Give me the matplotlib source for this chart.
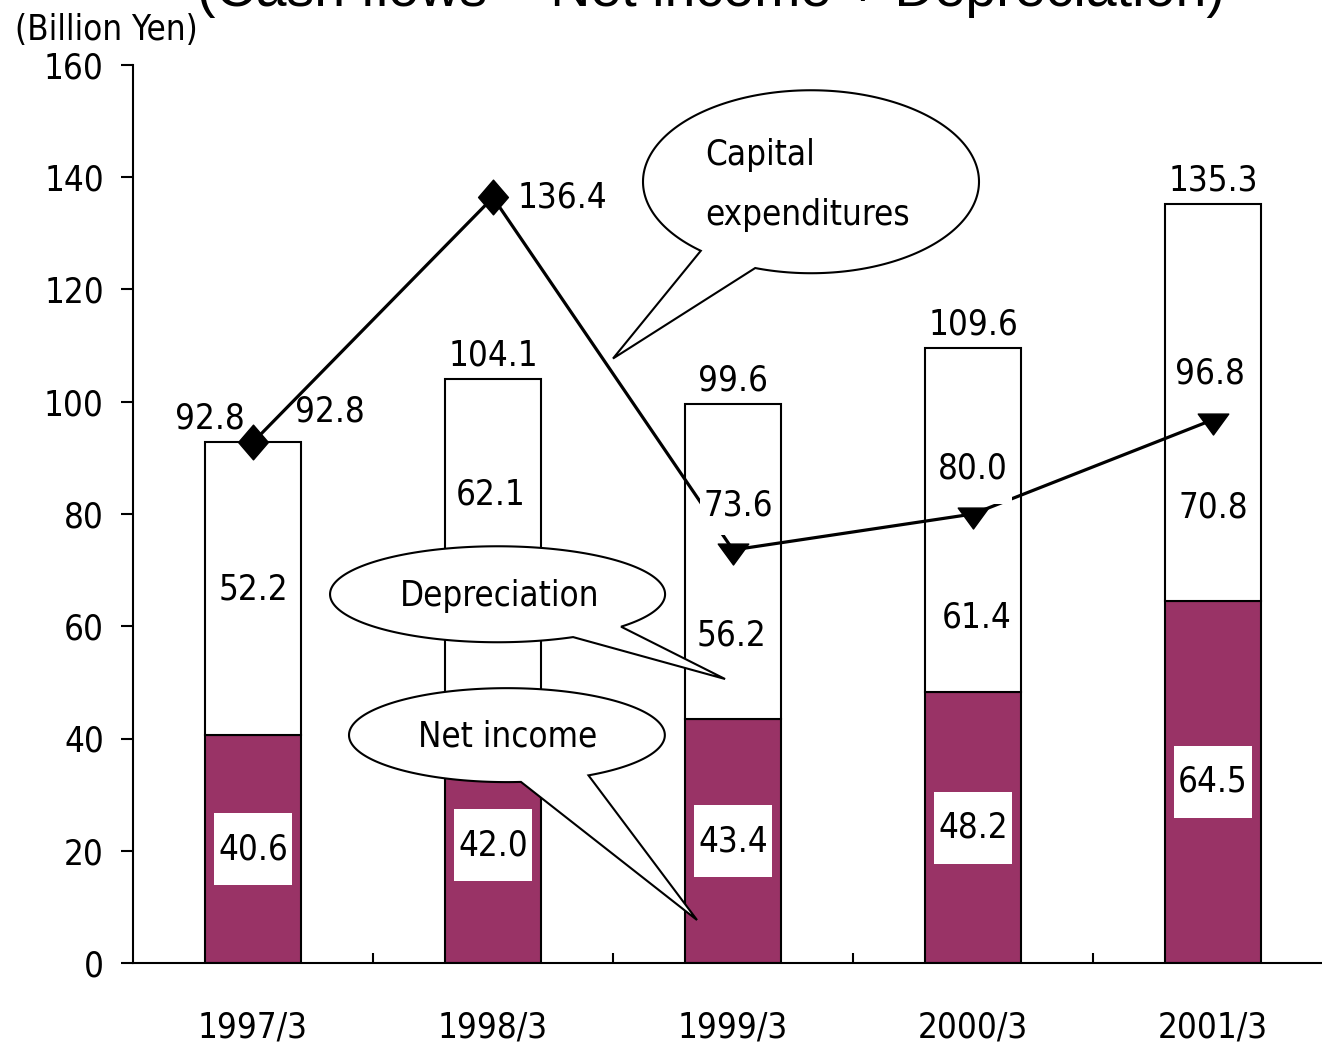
import numpy as np
import matplotlib
matplotlib.use("Agg")
import matplotlib.pyplot as plt
from matplotlib import font_manager as fm
from matplotlib.patches import Polygon, Rectangle
from matplotlib.path import Path

# data
years = ["1997/3", "1998/3", "1999/3", "2000/3", "2001/3"]
net_income = [40.6, 42.0, 43.4, 48.2, 64.5]
depreciation = [52.2, 62.1, 56.2, 61.4, 70.8]
cash_flow = [92.8, 104.1, 99.6, 109.6, 135.3]
capex = [92.8, 136.4, 73.6, 80.0, 96.8]

# label placement (hand tuned like the original)
dep_label_y = [66.5, 83.4, 58.3, 61.6, 81.2]
dep_label_dx = [0.0, -0.01, -0.005, 0.015, 0.0]

PURPLE = "#993366"

# the original uses a narrow sans; look for one, else shrink a normal one
narrow = None
for f in fm.fontManager.ttflist:
    low = (f.name + " " + f.fname).lower()
    if ("narrow" in low or "condensed" in low or f.stretch in ("condensed", "semi-condensed")) \
            and f.weight in (400, "normal", "regular") and f.style == "normal" \
            and "mono" not in low and "serif" not in f.name.lower():
        narrow = f
        break
if narrow is not None:
    FP = fm.FontProperties(fname=narrow.fname)
    FS = 25
else:
    FP = fm.FontProperties(family=["Liberation Sans", "DejaVu Sans"])
    FS = 23


def txt(*args, **kw):
    return ax.text(*args, fontproperties=FP, fontsize=FS, **kw)


fig = plt.figure(figsize=(13.22, 10.45), dpi=100)
ax = fig.add_axes([133 / 1322, 82 / 1045, 1189 / 1322, 898 / 1045])

x = np.arange(len(years))
ax.bar(x, net_income, width=0.4, color=PURPLE, edgecolor="black", linewidth=1.5, zorder=2)
ax.bar(x, depreciation, width=0.4, bottom=net_income, color="white",
       edgecolor="black", linewidth=1.5, zorder=2)

# capital expenditures line
ax.plot(x, capex, color="black", lw=2.3, zorder=3)
diamond = Path([(0, 1), (0.86, 0), (0, -1), (-0.86, 0), (0, 1)], closed=True)
tri = Path([(-1, 0.42), (1, 0.42), (0, -0.95), (-1, 0.42)], closed=True)
ax.plot(x[:2], capex[:2], ls="none", marker=diamond, ms=25, color="black", zorder=5)
ax.plot(x[2:], capex[2:], ls="none", marker=tri, ms=22, color="black", zorder=5)

BW, BH = 0.325, 12.8  # white label box

# net income labels in white boxes
for i, v in enumerate(net_income):
    ax.add_patch(Rectangle((i - BW / 2, v / 2 - BH / 2), BW, BH, fc="white", ec="none", zorder=4))
    txt(i, v / 2, f"{v:.1f}", ha="center", va="center", zorder=6)

# depreciation labels
for i, v in enumerate(depreciation):
    txt(i + dep_label_dx[i], dep_label_y[i], f"{v:.1f}", ha="center", va="center", zorder=6)

# totals above the bars
for i, v in enumerate(cash_flow):
    dx = -31 if i == 0 else 0
    ax.annotate(f"{v:.1f}", (i, v), xytext=(dx, 17), textcoords="offset points",
                ha="center", va="center", fontproperties=FP, fontsize=FS, zorder=6)

# capex labels (two of them sit on white boxes that mask the line)
cap_off = [(55, 22), (50, 0), (4, 32), (0, 33), (-2, 33)]
box_below = {2: 5.3, 3: 6.3}
for i, v in enumerate(capex):
    ax.annotate(f"{v:.1f}", (i, v), xytext=cap_off[i], textcoords="offset points",
                ha="center", va="center", fontproperties=FP, fontsize=FS, zorder=6)
    if i in box_below:
        yc = v + cap_off[i][1] / 72 * 100 / 5.6125
        xc = i + cap_off[i][0] / 72 * 100 / 240
        ax.add_patch(Rectangle((xc - BW / 2, yc - box_below[i]), BW, 5.3 + box_below[i],
                               fc="white", ec="none", zorder=4))


def bubble(cx, cy, rx, ry, a1, a2, tip):
    t = np.radians(np.linspace(a2, a1 + 360, 240))
    pts = np.column_stack([cx + rx * np.cos(t), cy + ry * np.sin(t)])
    pts = np.vstack([pts, tip])
    ax.add_patch(Polygon(pts, closed=True, fc="white", ec="black", lw=1.5,
                         zorder=7, clip_on=False))


bubble(2.325, 139.2, 0.70, 16.3, 229, 250.6, (1.5, 107.7))
txt(1.883, 144.0, "Capital", ha="left", va="center", zorder=8)
txt(1.883, 133.3, "expenditures", ha="left", va="center", zorder=8)

bubble(1.019, 65.7, 0.698, 8.55, -63.2, -42.5, (1.967, 50.6))
txt(1.029, 65.4, "Depreciation", ha="center", va="center", zorder=8)

bubble(1.058, 40.6, 0.658, 8.37, -84.9, -58.9, (1.85, 7.66))
txt(1.0625, 40.3, "Net income", ha="center", va="center", zorder=8)

# axes
ax.set_xlim(-0.5, -0.5 + 1189 / 240)
ax.set_ylim(0, 160)
ax.set_yticks(range(0, 161, 20))
ax.set_xticks(x)
ax.set_xticklabels(years)
ax.set_xticks(x[:-1] + 0.5, minor=True)
ax.tick_params(axis="y", direction="out", length=9, width=1.5, pad=12)
ax.tick_params(axis="x", which="major", length=0, pad=34)
ax.tick_params(axis="x", which="minor", direction="in", length=7, width=1.5)
for lab in ax.get_xticklabels() + ax.get_yticklabels():
    lab.set_fontproperties(FP)
    lab.set_fontsize(FS)
for s in ("top", "right"):
    ax.spines[s].set_visible(False)
ax.spines["left"].set_linewidth(1.5)
ax.spines["bottom"].set_linewidth(1.5)
ax.patch.set_visible(False)

fig.text(15 / 1322, 1 - 30 / 1045, "(Billion Yen)", ha="left", va="center",
         fontproperties=FP, fontsize=FS)
fig.text(711 / 1322, 1 - 6 / 1045, "(Cash flows = Net income + Depreciation)",
         ha="center", va="baseline", fontsize=40, family=["Liberation Sans", "DejaVu Sans"])

fig.savefig("out.png", dpi=100)
